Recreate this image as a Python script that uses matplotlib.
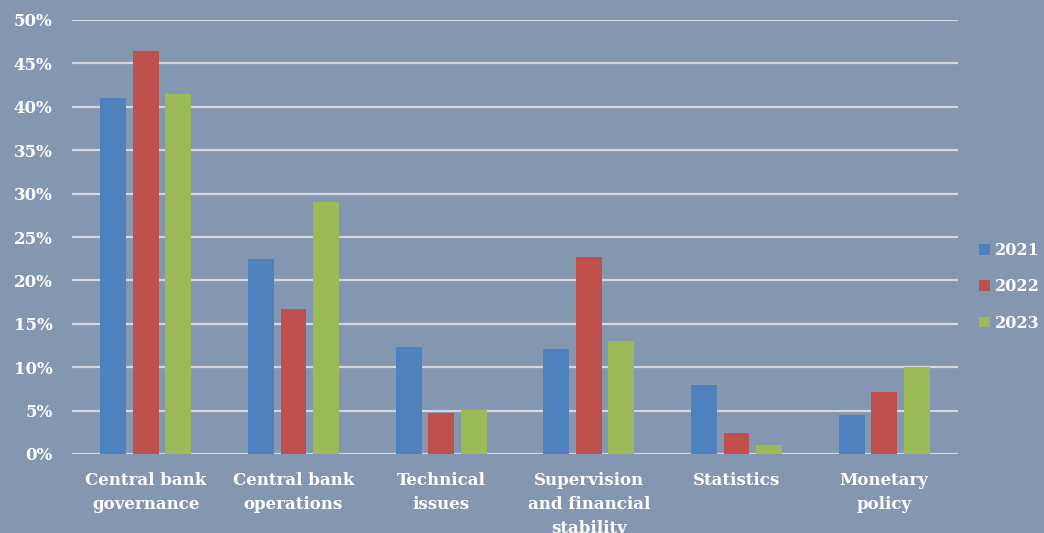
import numpy as np
import matplotlib
matplotlib.use("Agg")
import matplotlib.pyplot as plt

categories = ["Central bank\ngovernance", "Central bank\noperations", "Technical\nissues",
              "Supervision\nand financial\nstability", "Statistics", "Monetary\npolicy"]
years = ["2021", "2022", "2023"]
v2021 = [41.0, 22.5, 12.3, 12.1, 7.9, 4.5]
v2022 = [46.4, 16.7, 4.7, 22.7, 2.4, 7.1]
v2023 = [41.5, 29.0, 5.1, 13.0, 1.0, 10.0]
yticks = [0, 5, 10, 15, 20, 25, 30, 35, 40, 45, 50]

colors = ["#4F81BD", "#C0504D", "#9BBB59"]
bg = "#8497B0"

plt.rcParams['font.family'] = ['DejaVu Serif']
plt.rcParams['font.weight'] = 'bold'

fig = plt.figure(figsize=(10.44, 5.33), dpi=100, facecolor=bg)
ax = fig.add_axes([72 / 1044, 1 - 454 / 533, (958 - 72) / 1044, 434 / 533])
ax.set_facecolor(bg)

x = np.arange(len(categories))
w = 0.176
step = 0.22
for i, vals in enumerate([v2021, v2022, v2023]):
    ax.bar(x + (i - 1) * step, vals, width=w, color=colors[i], label=years[i], zorder=3)

ax.set_xlim(-0.5, len(categories) - 0.5)
ax.set_ylim(0, 50)
ax.set_yticks(yticks)
ax.set_yticklabels(["%d%%" % t for t in yticks], color="white", fontsize=12, fontweight="bold")
ax.set_xticks(x)
ax.set_xticklabels(categories, color="white", fontsize=12, fontweight="bold", linespacing=1.55)
ax.tick_params(axis="both", length=0)
ax.tick_params(axis="x", pad=13)
ax.tick_params(axis="y", pad=14)
for t in ax.get_xticklabels():
    t.set_verticalalignment("top")

ax.grid(axis="y", color="#D4D8DE", linewidth=1.6, zorder=0)
for s in ["left", "right", "top", "bottom"]:
    ax.spines[s].set_visible(False)

leg = ax.legend(loc="center left", bbox_to_anchor=(1.008, 0.385), frameon=False,
                handlelength=0.65, handleheight=0.65, handletextpad=0.3, labelspacing=1.2,
                prop={"family": "DejaVu Serif", "weight": "bold", "size": 11.5})
for t in leg.get_texts():
    t.set_color("white")

fig.savefig("out.png", dpi=100, facecolor=bg)
